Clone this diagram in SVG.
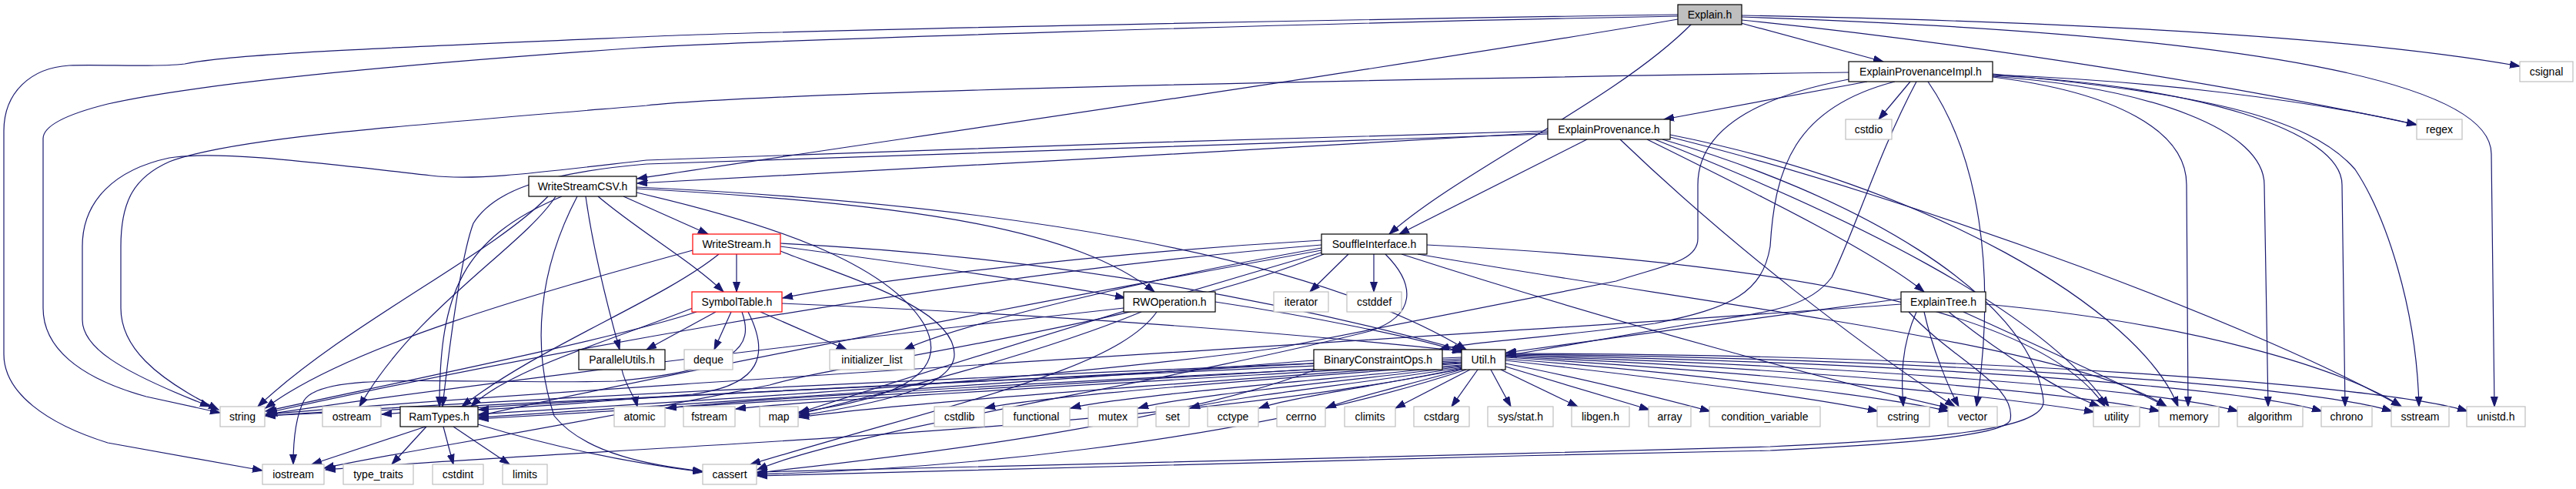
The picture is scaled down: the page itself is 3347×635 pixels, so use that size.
<svg xmlns="http://www.w3.org/2000/svg" width="3347" height="635" viewBox="0 0 3347 635">
<defs>
<style>
.e path{fill:none;stroke:#191970;stroke-width:1.2;marker-end:url(#a)}
.n rect{fill:#fff;stroke:#000;stroke-width:1.2}
.s rect{fill:#fff;stroke:#bfbfbf;stroke-width:1.2}
.r rect{fill:#fff;stroke:#ff0000;stroke-width:1.2}
.g rect{fill:#bfbfbf;stroke:#000;stroke-width:1.2}
text{font-family:"Liberation Sans",Arial,sans-serif;font-size:14px;fill:#000;text-anchor:middle}
</style>
<marker id="a" markerWidth="14" markerHeight="10" refX="13" refY="5" orient="auto" markerUnits="userSpaceOnUse">
<path d="M0,0.5 L13,5 L0,9.5 z" fill="#191970" stroke="#191970" stroke-width="1"/>
</marker>
</defs>
<rect width="3347" height="635" fill="#fff"/>
<g id="connectors" class="e">
<!-- Explain.h -->
<path d="M2262,30 L2447,80"/>
<path d="M2198,31 C2100,130 1900,220 1805,304"/>
<path d="M2180,25 C1800,90 1100,190 828,232"/>
<path d="M2263,20 C2800,30 3100,55 3274,86"/>
<path d="M2263,22 C2950,45 3237,110 3237,200 L3241,528"/>
<path d="M2263,26 C2550,55 2900,110 3140,162"/>
<path d="M2180,19 C1700,26 1000,40 830,48 C500,62 300,70 240,83 C200,88 130,83 90,85 C40,88 5,120 5,170 L5,460 C5,510 60,550 140,575 L341,611"/>
<path d="M2180,21 C1700,30 1000,52 830,62 C500,85 250,110 140,135 C80,150 56,165 56,180 L56,400 C56,450 100,490 190,515 L286,536"/>
<!-- ExplainProvenanceImpl.h -->
<path d="M2426,106 L2162,155"/>
<path d="M2482,106 L2441,155"/>
<path d="M2589,97 C2800,105 3000,130 3140,162"/>
<path d="M2589,100 C2750,120 2841,170 2841,240 L2843,528"/>
<path d="M2589,99 C2800,115 2942,170 2942,240 L2947,528"/>
<path d="M2589,98 C2850,110 3043,170 3043,240 L3047,528"/>
<path d="M2589,96 C2850,120 3000,150 3060,220 C3100,280 3140,400 3143,528"/>
<path d="M2505,106 C2570,200 2595,350 2568,528"/>
<path d="M2402,94 C1700,104 1000,120 840,137 C500,165 300,180 220,210 C175,230 157,260 157,320 L157,400 C157,450 200,490 284,532"/>
<path d="M2490,106 C2440,200 2410,300 2380,360 C2350,400 2300,405 2200,420 L1957,462"/>
<path d="M2462,106 C2330,140 2306,220 2300,320 C2290,380 2250,400 2150,420 C2000,440 1900,445 1870,454"/>
<path d="M2402,103 C2260,130 2206,180 2206,240 L2206,310 C2206,340 2160,345 2100,365 L1660,452 C1300,500 900,520 622,538"/>
<!-- ExplainProvenance.h -->
<path d="M2062,181 L1818,304"/>
<path d="M2011,172 C1700,190 1100,225 828,238"/>
<path d="M2011,170 C1700,178 1000,200 840,208 C700,224 620,235 560,228 C400,210 280,195 220,205 C150,220 107,260 107,320 L107,415 C107,450 150,480 273,528"/>
<path d="M2011,174 C1500,190 1000,205 840,213 C700,225 640,250 615,290 C600,330 585,440 575,528"/>
<path d="M2140,181 C2300,260 2440,330 2500,379"/>
<path d="M2105,181 C2250,320 2420,450 2540,528"/>
<path d="M2150,181 C2400,280 2650,400 2740,528"/>
<path d="M2170,178 C2500,260 2950,430 3120,528"/>
<path d="M2170,175 C2500,240 2780,400 2830,528"/>
<path d="M2160,181 C2400,250 2640,380 2655,520 C2660,560 2500,570 2300,580 C1800,595 1200,605 984,613"/>
<!-- WriteStreamCSV.h -->
<path d="M712,255 C640,330 450,420 335,528"/>
<path d="M722,255 C680,320 540,400 467,528"/>
<path d="M730,255 C600,310 571,380 571,528"/>
<path d="M750,255 C700,350 690,450 720,540 C760,590 850,605 913,612"/>
<path d="M761,255 C770,320 790,400 805,454"/>
<path d="M777,255 C830,300 900,340 940,379"/>
<path d="M810,255 L920,304"/>
<path d="M827,245 C1200,265 1400,300 1500,379"/>
<path d="M827,243 C1300,265 1700,330 1905,454"/>
<path d="M827,250 C1000,290 1150,340 1200,420 C1240,490 1150,520 1038,535"/>
<!-- WriteStream.h -->
<path d="M957,330 L957,379"/>
<path d="M1014,320 C1200,345 1380,370 1462,387"/>
<path d="M900,325 C700,380 450,450 345,530"/>
<path d="M934,330 C860,390 700,450 600,528"/>
<path d="M1014,316 C1400,335 1700,400 1902,455"/>
<path d="M1014,326 C1100,360 1240,400 1240,460 C1240,510 1100,530 1038,540"/>
<!-- SymbolTable.h -->
<path d="M930,405 L840,454"/>
<path d="M950,405 L928,454"/>
<path d="M988,405 L1100,454"/>
<path d="M1016,394 C1400,410 1700,435 1900,456"/>
<path d="M905,405 C800,440 500,500 345,534"/>
<path d="M900,400 C800,440 660,480 612,528"/>
<path d="M964,405 C980,450 960,480 800,495 C600,500 420,480 395,520 C382,545 381,580 381,603"/>
<path d="M972,405 C1000,460 990,500 900,512 C800,520 700,528 622,532"/>
<!-- SouffleInterface.h -->
<path d="M1752,330 L1702,379"/>
<path d="M1785,330 L1785,379"/>
<path d="M1717,312 C1400,330 1100,370 1017,387"/>
<path d="M1717,322 C1500,360 1250,420 1175,454"/>
<path d="M1717,318 C1200,360 600,480 347,536"/>
<path d="M1717,325 C1300,400 800,500 622,540"/>
<path d="M1720,330 C1500,420 1100,470 1000,500 C700,560 500,590 421,608"/>
<path d="M1800,330 C1840,370 1840,410 1780,430 C1500,500 1100,560 984,610"/>
<path d="M1717,328 C1400,420 1150,500 1038,536"/>
<path d="M1821,330 C2100,420 2400,500 2533,530"/>
<path d="M1854,318 C2300,340 2650,400 2735,528"/>
<path d="M1842,330 C2250,400 2700,450 2815,528"/>
<!-- RWOperation.h -->
<path d="M1579,392 C1700,410 1850,440 1900,458"/>
<path d="M1483,405 C1350,460 1150,510 1038,538"/>
<path d="M1503,405 C1450,480 1250,520 975,603"/>
<path d="M1460,400 C1100,440 600,500 347,538"/>
<!-- ParallelUtils.h -->
<path d="M808,480 C812,500 825,515 828,528"/>
<!-- BinaryConstraintOps.h -->
<path d="M1707,468 C1300,500 800,530 622,542"/>
<path d="M1707,472 C1200,500 600,530 345,540"/>
<path d="M1712,479 C1500,560 1100,600 984,614"/>
<!-- RamTypes.h -->
<path d="M553,554 L405,603"/>
<path d="M554,554 L509,603"/>
<path d="M576,554 L589,603"/>
<path d="M589,554 L662,603"/>
<path d="M621,551 C750,590 850,605 913,613"/>
<!-- Util.h -->
<path d="M1899,464 C1500,480 800,510 345,540"/>
<path d="M1899,466 C1400,490 800,515 496,538"/>
<path d="M1899,468 C1400,495 900,525 622,544"/>
<path d="M1899,470 C1500,490 1000,515 866,530"/>
<path d="M1899,471 C1500,495 1050,520 956,531"/>
<path d="M1899,472 C1500,500 1150,525 1038,542"/>
<path d="M1899,474 C1600,495 1350,515 1280,530"/>
<path d="M1899,475 C1700,495 1450,515 1391,530"/>
<path d="M1899,476 C1750,495 1530,515 1479,530"/>
<path d="M1900,477 C1780,497 1600,515 1546,530"/>
<path d="M1900,478 C1800,500 1680,515 1636,530"/>
<path d="M1902,479 C1830,500 1760,515 1723,530"/>
<path d="M1910,480 L1813,530"/>
<path d="M1920,480 L1886,528"/>
<path d="M1937,480 L1963,528"/>
<path d="M1950,480 L2050,528"/>
<path d="M1956,476 L2143,532"/>
<path d="M1956,472 C2050,490 2150,515 2222,534"/>
<path d="M1956,468 C2150,490 2350,515 2440,534"/>
<path d="M1956,466 C2200,485 2450,515 2532,534"/>
<path d="M1956,464 C2300,485 2600,515 2721,535"/>
<path d="M1956,463 C2350,480 2700,510 2806,534"/>
<path d="M1956,462 C2400,475 2800,505 2908,534"/>
<path d="M1956,461 C2450,470 2900,500 3017,534"/>
<path d="M1956,460 C2500,465 3000,500 3108,534"/>
<path d="M1956,459 C2550,460 3100,500 3206,534"/>
<path d="M1900,479 C1500,560 800,580 423,610"/>
<path d="M1905,480 C1600,580 1200,610 984,616"/>
<!-- ExplainTree.h -->
<path d="M2470,388 C2300,410 2100,440 1957,458"/>
<path d="M2470,395 C2000,430 800,500 345,538"/>
<path d="M2580,395 C2850,420 3050,480 3120,528"/>
<path d="M2490,405 C2470,450 2470,490 2473,528"/>
<path d="M2500,405 C2510,450 2530,500 2545,528"/>
<path d="M2532,405 C2600,460 2680,510 2728,528"/>
<path d="M2551,405 C2650,450 2760,500 2815,528"/>
<path d="M2480,405 C2540,470 2620,500 2612,545 C2605,570 2400,580 2300,585 C1800,595 1200,610 984,618"/>
</g>
<g id="n-explain" class="g"><rect x="2180" y="6" width="83" height="26"/><text x="2221.5" y="24">Explain.h</text></g>
<g id="n-epi" class="n"><rect x="2402" y="80" width="187" height="26"/><text x="2495.5" y="98">ExplainProvenanceImpl.h</text></g>
<g id="n-csignal" class="s"><rect x="3274" y="80" width="69" height="26"/><text x="3308.5" y="98">csignal</text></g>
<g id="n-ep" class="n"><rect x="2011" y="155" width="159" height="26"/><text x="2090.5" y="173">ExplainProvenance.h</text></g>
<g id="n-cstdio" class="s"><rect x="2398" y="155" width="60" height="26"/><text x="2428" y="173">cstdio</text></g>
<g id="n-regex" class="s"><rect x="3140" y="155" width="59" height="26"/><text x="3169.5" y="173">regex</text></g>
<g id="n-wscsv" class="n"><rect x="687" y="229" width="140" height="26"/><text x="757" y="247">WriteStreamCSV.h</text></g>
<g id="n-ws" class="r"><rect x="900" y="304" width="114" height="26"/><text x="957" y="322">WriteStream.h</text></g>
<g id="n-si" class="n"><rect x="1717" y="304" width="137" height="26"/><text x="1785.5" y="322">SouffleInterface.h</text></g>
<g id="n-st" class="r"><rect x="899" y="379" width="117" height="26"/><text x="957.5" y="397">SymbolTable.h</text></g>
<g id="n-rwo" class="n"><rect x="1460" y="379" width="119" height="26"/><text x="1519.5" y="397">RWOperation.h</text></g>
<g id="n-iterator" class="s"><rect x="1655" y="379" width="71" height="26"/><text x="1690.5" y="397">iterator</text></g>
<g id="n-cstddef" class="s"><rect x="1750" y="379" width="71" height="26"/><text x="1785.5" y="397">cstddef</text></g>
<g id="n-et" class="n"><rect x="2470" y="379" width="110" height="26"/><text x="2525" y="397">ExplainTree.h</text></g>
<g id="n-pu" class="n"><rect x="752" y="454" width="112" height="26"/><text x="808" y="472">ParallelUtils.h</text></g>
<g id="n-deque" class="s"><rect x="889" y="454" width="63" height="26"/><text x="920.5" y="472">deque</text></g>
<g id="n-initlist" class="s"><rect x="1078" y="454" width="110" height="26"/><text x="1133" y="472">initializer_list</text></g>
<g id="n-bco" class="n"><rect x="1707" y="454" width="167" height="26"/><text x="1790.5" y="472">BinaryConstraintOps.h</text></g>
<g id="n-util" class="n"><rect x="1899" y="454" width="57" height="26"/><text x="1927.5" y="472">Util.h</text></g>
<g id="n-string" class="s"><rect x="286" y="528" width="58" height="26"/><text x="315" y="546">string</text></g>
<g id="n-ostream" class="s"><rect x="419" y="528" width="76" height="26"/><text x="457" y="546">ostream</text></g>
<g id="n-ramtypes" class="n"><rect x="520" y="528" width="101" height="26"/><text x="570.5" y="546">RamTypes.h</text></g>
<g id="n-atomic" class="s"><rect x="798" y="528" width="66" height="26"/><text x="831" y="546">atomic</text></g>
<g id="n-fstream" class="s"><rect x="888" y="528" width="67" height="26"/><text x="921.5" y="546">fstream</text></g>
<g id="n-map" class="s"><rect x="987" y="528" width="50" height="26"/><text x="1012" y="546">map</text></g>
<g id="n-cstdlib" class="s"><rect x="1214" y="528" width="65" height="26"/><text x="1246.5" y="546">cstdlib</text></g>
<g id="n-functional" class="s"><rect x="1303" y="528" width="87" height="26"/><text x="1346.5" y="546">functional</text></g>
<g id="n-mutex" class="s"><rect x="1414" y="528" width="64" height="26"/><text x="1446" y="546">mutex</text></g>
<g id="n-set" class="s"><rect x="1502" y="528" width="43" height="26"/><text x="1523.5" y="546">set</text></g>
<g id="n-cctype" class="s"><rect x="1569" y="528" width="66" height="26"/><text x="1602" y="546">cctype</text></g>
<g id="n-cerrno" class="s"><rect x="1659" y="528" width="63" height="26"/><text x="1690.5" y="546">cerrno</text></g>
<g id="n-climits" class="s"><rect x="1747" y="528" width="66" height="26"/><text x="1780" y="546">climits</text></g>
<g id="n-cstdarg" class="s"><rect x="1837" y="528" width="72" height="26"/><text x="1873" y="546">cstdarg</text></g>
<g id="n-sysstat" class="s"><rect x="1933" y="528" width="85" height="26"/><text x="1975.5" y="546">sys/stat.h</text></g>
<g id="n-libgen" class="s"><rect x="2042" y="528" width="75" height="26"/><text x="2079.5" y="546">libgen.h</text></g>
<g id="n-array" class="s"><rect x="2142" y="528" width="55" height="26"/><text x="2169.5" y="546">array</text></g>
<g id="n-condvar" class="s"><rect x="2221" y="528" width="144" height="26"/><text x="2293" y="546">condition_variable</text></g>
<g id="n-cstring" class="s"><rect x="2439" y="528" width="68" height="26"/><text x="2473" y="546">cstring</text></g>
<g id="n-vector" class="s"><rect x="2531" y="528" width="64" height="26"/><text x="2563" y="546">vector</text></g>
<g id="n-utility" class="s"><rect x="2720" y="528" width="60" height="26"/><text x="2750" y="546">utility</text></g>
<g id="n-memory" class="s"><rect x="2805" y="528" width="78" height="26"/><text x="2844" y="546">memory</text></g>
<g id="n-algorithm" class="s"><rect x="2907" y="528" width="85" height="26"/><text x="2949.5" y="546">algorithm</text></g>
<g id="n-chrono" class="s"><rect x="3016" y="528" width="66" height="26"/><text x="3049" y="546">chrono</text></g>
<g id="n-sstream" class="s"><rect x="3107" y="528" width="75" height="26"/><text x="3144.5" y="546">sstream</text></g>
<g id="n-unistd" class="s"><rect x="3205" y="528" width="76" height="26"/><text x="3243" y="546">unistd.h</text></g>
<g id="n-iostream" class="s"><rect x="341" y="603" width="80" height="26"/><text x="381" y="621">iostream</text></g>
<g id="n-typetraits" class="s"><rect x="446" y="603" width="91" height="26"/><text x="491.5" y="621">type_traits</text></g>
<g id="n-cstdint" class="s"><rect x="562" y="603" width="66" height="26"/><text x="595" y="621">cstdint</text></g>
<g id="n-limits" class="s"><rect x="653" y="603" width="58" height="26"/><text x="682" y="621">limits</text></g>
<g id="n-cassert" class="s"><rect x="913" y="603" width="70" height="26"/><text x="948" y="621">cassert</text></g>
</svg>
